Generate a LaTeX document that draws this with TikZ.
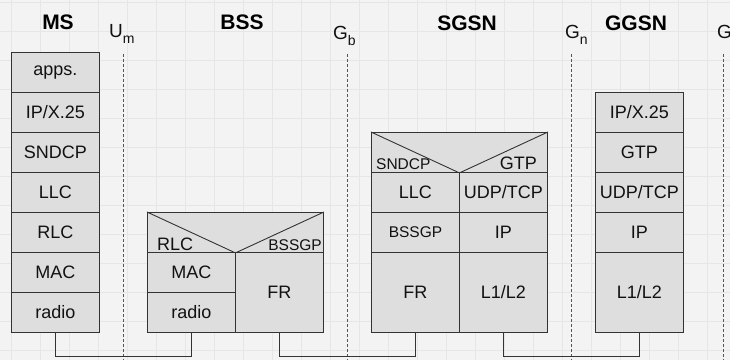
\documentclass[tikz,border=0pt]{standalone}
\usepackage{fontspec}
\setmainfont{Liberation Sans}
\newcommand{\fsz}[1]{\fontsize{#1}{#1}\selectfont}
\definecolor{bgc}{HTML}{F3F3F3}
\definecolor{gridc}{HTML}{E6E6E6}
\definecolor{cellc}{HTML}{DEDEDE}
\definecolor{linec}{HTML}{333333}
\definecolor{dashc}{HTML}{555555}
\definecolor{txtc}{HTML}{111111}
\begin{document}
\begin{tikzpicture}[x=1pt,y=-1pt,
  cell/.style={draw=linec, fill=cellc, line width=0.9pt, minimum width=88pt, minimum height=40pt,
    inner sep=0pt, anchor=north west, font=\fsz{18}, text=txtc},
  tallcell/.style={cell, minimum height=80pt},
  hdr/.style={cell, minimum width=176pt},
  small/.style={font=\fsz{15.5}},
  hlabel/.style={inner sep=0pt, text=txtc},
  title/.style={inner sep=0pt, anchor=base, font=\bfseries\fsz{21}, text=black},
  iface/.style={inner sep=0pt, anchor=base west, font=\fsz{19}, text=txtc},
  dashline/.style={draw=dashc, line width=0.9pt, dash pattern=on 3pt off 2pt},
  conn/.style={draw=linec, line width=0.9pt}
]
\useasboundingbox (0,0) rectangle (730,360);
\fill[bgc] (0,0) rectangle (730,360);
\foreach \k in {0,...,24} {\draw[gridc, line width=0.6pt] (11+29*\k,0) -- (11+29*\k,360);}
\foreach \k in {0,...,12} {\draw[gridc, line width=0.6pt] (0,2+29*\k) -- (730,2+29*\k);}

% titles
\node[title] (tms) at (58,29) {MS};
\node[title] (tbss) at (242,29) {BSS};
\node[title] (tsgsn) at (467,30) {SGSN};
\node[title] (tggsn) at (636,30) {GGSN};

% interface labels
\node[iface] (lum) at (109,37) {U\raisebox{-6pt}{\fsz{14}m}};
\node[iface] (lgb) at (333,39) {G\raisebox{-6pt}{\fsz{14}b}};
\node[iface] (lgn) at (565,38) {G\raisebox{-6pt}{\fsz{14}n}};
\node[iface] (lgi) at (717,38) {G};

% dashed interface lines
\coordinate (um1) at (123,54); \coordinate (um2) at (123,360);
\coordinate (gb1) at (347,54); \coordinate (gb2) at (347,360);
\coordinate (gn1) at (571,54); \coordinate (gn2) at (571,360);
\coordinate (gi1) at (723,54); \coordinate (gi2) at (723,360);
\draw[dashline] (um1) -- (um2);
\draw[dashline] (gb1) -- (gb2);
\draw[dashline] (gn1) -- (gn2);
\draw[dashline] (gi1) -- (gi2);

% MS stack
\node[cell] (ms1) at (11,52) {apps.};
\node[cell] (ms2) at (11,92) {IP/X.25};
\node[cell] (ms3) at (11,132) {SNDCP};
\node[cell] (ms4) at (11,172) {LLC};
\node[cell] (ms5) at (11,212) {RLC};
\node[cell] (ms6) at (11,252) {MAC};
\node[cell] (ms7) at (11,292) {radio};

% BSS stack
\node[hdr] (bsshdr) at (147,212) {};
\draw[conn] (bsshdr.north west) -- (bsshdr.south) -- (bsshdr.north east);
\node[hlabel, anchor=base west, font=\fsz{18}] (bssrlc) at (157,250) {RLC};
\node[hlabel, anchor=base east, font=\fsz{15.5}] (bssbssgp) at (322,250) {BSSGP};
\node[cell] (bssmac) at (147,252) {MAC};
\node[cell] (bssradio) at (147,292) {radio};
\node[tallcell] (bssfr) at (235,252) {FR};

% SGSN stack
\node[hdr] (sgsnhdr) at (371,132) {};
\draw[conn] (sgsnhdr.north west) -- (sgsnhdr.south) -- (sgsnhdr.north east);
\node[hlabel, anchor=base west, font=\fsz{15.5}] (sgsnsndcp) at (376,169) {SNDCP};
\node[hlabel, anchor=base east, font=\fsz{18}] (sgsngtp) at (537,169) {GTP};
\node[cell] (sgsnllc) at (371,172) {LLC};
\node[cell, small] (sgsnbssgp) at (371,212) {BSSGP};
\node[tallcell] (sgsnfr) at (371,252) {FR};
\node[cell] (sgsnudp) at (459,172) {UDP/TCP};
\node[cell] (sgsnip) at (459,212) {IP};
\node[tallcell] (sgsnl1) at (459,252) {L1/L2};

% GGSN stack
\node[cell] (gg1) at (595,92) {IP/X.25};
\node[cell] (gg2) at (595,132) {GTP};
\node[cell] (gg3) at (595,172) {UDP/TCP};
\node[cell] (gg4) at (595,212) {IP};
\node[tallcell] (gg5) at (595,252) {L1/L2};

% physical connections
\draw[conn] (ms7.south) -- (ms7.south |- 0,356) -| (bssradio.south);
\draw[conn] (bssfr.south) -- (bssfr.south |- 0,356) -| (sgsnfr.south);
\draw[conn] (sgsnl1.south) -- (sgsnl1.south |- 0,356) -| (gg5.south);
\end{tikzpicture}
\end{document}
